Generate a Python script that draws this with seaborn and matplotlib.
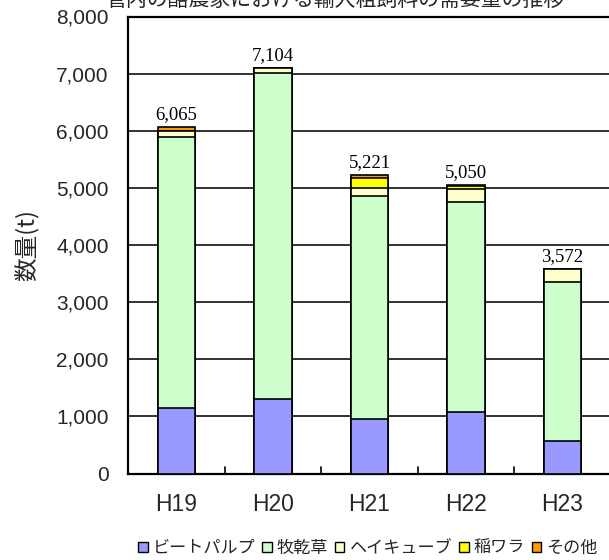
import numpy as np
import pandas as pd
import matplotlib
matplotlib.use("Agg")
import matplotlib.pyplot as plt
from matplotlib.patches import Patch
from matplotlib.ticker import FuncFormatter
import seaborn as sns

# --- data ---
years = ["H19", "H20", "H21", "H22", "H23"]
beet_pulp = [1152, 1300, 950, 1083, 569]
hay = [4746, 5710, 3915, 3677, 2779]
hay_cube = [100, 94, 140, 217, 224]
rice_straw = [0, 0, 165, 63, 0]
other = [67, 0, 51, 10, 0]
totals = [6065, 7104, 5221, 5050, 3572]

series_names = ["ビートパルプ", "牧乾草", "ヘイキューブ", "稲ワラ", "その他"]
series_vals = [beet_pulp, hay, hay_cube, rice_straw, other]
colors = ["#9999FF", "#CCFFCC", "#FFFFCC", "#FFFF00", "#FF9900"]

sns.set_theme(style="white")
plt.rcParams["font.family"] = ["Liberation Sans", "Noto Sans CJK JP"]
CJK = ["Noto Sans CJK JP", "DejaVu Sans"]

df = pd.DataFrame({"year": years})
cum = np.zeros(len(years))
for name, vals in zip(series_names, series_vals):
    cum = cum + np.array(vals)
    df[name] = cum

fig = plt.figure(figsize=(6.09, 5.6), dpi=100)
ax = fig.add_axes([128.25 / 609, 86.5 / 560, 482.5 / 609, 457 / 560])

# draw cumulative bars from the top layer down so lower layers sit in front
for name, col in reversed(list(zip(series_names, colors))):
    sns.barplot(data=df, x="year", y=name, color=col, width=0.385,
                edgecolor="black", linewidth=1.2, saturation=1, ax=ax, zorder=3)

for i, t in enumerate(totals):
    ax.text(i, t + 70, f"{t:,}", ha="center", va="bottom",
            family="Liberation Serif", fontsize=13.5, color="black")

ax.set_xlim(-0.5, 4.5)
ax.set_ylim(0, 8000)
ax.set_yticks(np.arange(0, 8001, 1000))
ax.yaxis.set_major_formatter(FuncFormatter(lambda v, p: f"{int(v):,}"))
ax.grid(axis="y", color="#222222", linewidth=1.3, zorder=0)
ax.set_axisbelow(True)
ax.set_xlabel("")
ax.set_ylabel("数量(t)", fontsize=17, labelpad=12, family=CJK)
ax.tick_params(axis="y", labelsize=15, length=0, pad=14)
ax.tick_params(axis="x", labelsize=16.5, length=0, pad=14)
for s in ["left", "top", "bottom"]:
    ax.spines[s].set_color("black")
    ax.spines[s].set_linewidth(1.6)
ax.spines["right"].set_visible(False)

# small tick marks between categories on the bottom axis
for b in np.arange(0.5, 4.5, 1.0):
    ax.plot([b, b], [0, 110], color="black", linewidth=1.2, zorder=4,
            clip_on=False)

handles = [Patch(facecolor=c, edgecolor="black", linewidth=1.0) for c in colors]
fig.legend(handles, series_names, loc="center", bbox_to_anchor=(368 / 609, 12 / 560),
           ncol=5, frameon=False, handlelength=0.55, handleheight=0.55,
           handletextpad=0.3, columnspacing=0.4,
           prop={"family": CJK, "size": 12.3})

fig.text(335 / 609, 1.0, "管内の酪農家における輸入粗飼料の需要量の推移",
         ha="center", va="center", fontsize=15, family=CJK)

fig.savefig("out.png", dpi=100)
